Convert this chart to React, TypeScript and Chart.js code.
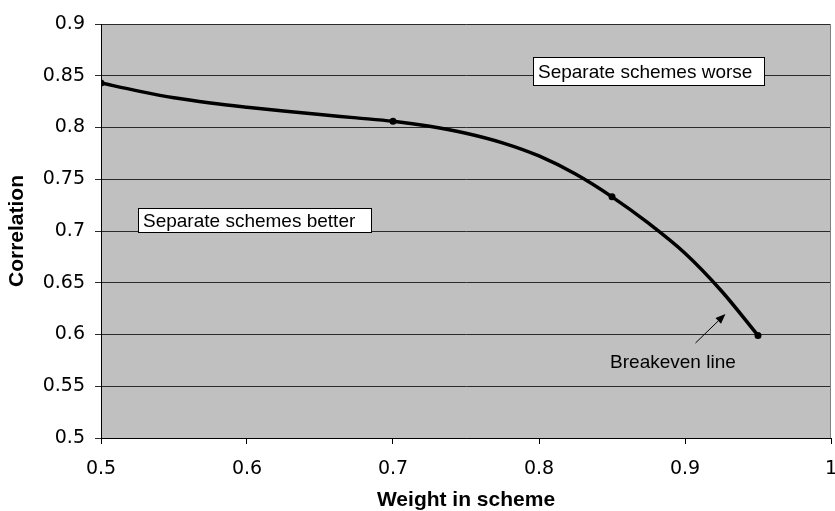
import React, { useEffect, useRef } from "react";
import { Chart, registerables } from "chart.js";

Chart.register(...registerables);

// Data: breakeven curve
const curveWeights = [0.5, 0.525, 0.55, 0.575, 0.6, 0.625, 0.65, 0.675, 0.7, 0.725, 0.75, 0.775, 0.8, 0.825, 0.85, 0.875, 0.9, 0.925, 0.95];
const curveCorrelations = [0.843, 0.8354, 0.8287, 0.8237, 0.8196, 0.8159, 0.8125, 0.8093, 0.806, 0.8012, 0.7945, 0.7852, 0.7725, 0.755, 0.733, 0.7075, 0.6785, 0.642, 0.599];

// Marked points
const markerWeights = [0.5, 0.7, 0.85, 0.95];
const markerCorrelations = [0.843, 0.806, 0.733, 0.599];

const xTickValues = [0.5, 0.6, 0.7, 0.8, 0.9, 1];
const yTickValues = [0.5, 0.55, 0.6, 0.65, 0.7, 0.75, 0.8, 0.85, 0.9];

const xTitle = "Weight in scheme";
const yTitle = "Correlation";

// annotation boxes in data coordinates: [x0, y0, x1, y1]
const worseLabel = "Separate schemes worse";
const worseBox = [0.796, 0.868, 0.954, 0.841];
const betterLabel = "Separate schemes better";
const betterBox = [0.525, 0.722, 0.685, 0.699];
const breakevenLabel = "Breakeven line";
const breakevenPos = [0.8487, 0.5676];
const arrowFrom = [0.9072, 0.5918];
const arrowTo = [0.9277, 0.6198];

const annotationPlugin = {
  id: "annotations",
  beforeDraw(chart: any) {
    const { ctx, chartArea } = chart;
    ctx.save();
    ctx.fillStyle = "#C0C0C0";
    ctx.fillRect(chartArea.left, chartArea.top, chartArea.right - chartArea.left, chartArea.bottom - chartArea.top);
    ctx.restore();
  },
  afterDraw(chart: any) {
    const { ctx, chartArea } = chart;
    const xs = chart.scales.x;
    const ys = chart.scales.y;
    const px = (v: number) => xs.getPixelForValue(v);
    const py = (v: number) => ys.getPixelForValue(v);
    ctx.save();
    // right border of plot area
    ctx.strokeStyle = "#808080";
    ctx.lineWidth = 1;
    ctx.beginPath();
    ctx.moveTo(Math.round(chartArea.right) - 0.5, chartArea.top);
    ctx.lineTo(Math.round(chartArea.right) - 0.5, chartArea.bottom);
    ctx.stroke();

    const drawBox = (box: number[], text: string) => {
      const x0 = Math.round(px(box[0])) + 0.5;
      const y0 = Math.round(py(box[1])) + 0.5;
      const x1 = Math.round(px(box[2])) + 0.5;
      const y1 = Math.round(py(box[3])) + 0.5;
      ctx.fillStyle = "#ffffff";
      ctx.fillRect(x0, y0, x1 - x0, y1 - y0);
      ctx.strokeStyle = "#000000";
      ctx.lineWidth = 1;
      ctx.strokeRect(x0, y0, x1 - x0, y1 - y0);
      ctx.fillStyle = "#000000";
      ctx.font = "19px 'Liberation Sans', Arial, sans-serif";
      ctx.textAlign = "left";
      ctx.textBaseline = "alphabetic";
      ctx.fillText(text, x0 + 4.5, y0 + (y1 - y0) / 2 + 6.5);
    };
    drawBox(worseBox, worseLabel);
    drawBox(betterBox, betterLabel);

    // breakeven text
    ctx.fillStyle = "#000000";
    ctx.font = "19px 'Liberation Sans', Arial, sans-serif";
    ctx.textAlign = "left";
    ctx.textBaseline = "alphabetic";
    ctx.fillText(breakevenLabel, px(breakevenPos[0]), py(breakevenPos[1]));

    // arrow
    const ax0 = px(arrowFrom[0]);
    const ay0 = py(arrowFrom[1]);
    const ax1 = px(arrowTo[0]);
    const ay1 = py(arrowTo[1]);
    const ang = Math.atan2(ay1 - ay0, ax1 - ax0);
    const headLen = 10;
    const headW = 4;
    const bx = ax1 - headLen * Math.cos(ang);
    const by = ay1 - headLen * Math.sin(ang);
    ctx.strokeStyle = "#000000";
    ctx.lineWidth = 1;
    ctx.beginPath();
    ctx.moveTo(ax0, ay0);
    ctx.lineTo(bx, by);
    ctx.stroke();
    ctx.beginPath();
    ctx.moveTo(ax1, ay1);
    ctx.lineTo(bx + headW * Math.sin(ang), by - headW * Math.cos(ang));
    ctx.lineTo(bx - headW * Math.sin(ang), by + headW * Math.cos(ang));
    ctx.closePath();
    ctx.fillStyle = "#000000";
    ctx.fill();
    ctx.restore();
  },
};

export default function App() {
  const canvasRef = useRef<HTMLCanvasElement | null>(null);

  useEffect(() => {
    if (!canvasRef.current) return;
    const tickFont = { family: "'DejaVu Sans', Verdana, sans-serif", size: 19 };
    const titleFont = { family: "'Liberation Sans', Arial, sans-serif", size: 21, weight: "bold" as const, lineHeight: 1 };
    const chart = new Chart(canvasRef.current, {
      type: "scatter",
      data: {
        datasets: [
          {
            data: curveWeights.map((w, i) => ({ x: w, y: curveCorrelations[i] })),
            showLine: true,
            borderColor: "#000000",
            backgroundColor: "#000000",
            borderWidth: 3.5,
            pointRadius: 0,
            cubicInterpolationMode: "monotone",
          },
          {
            data: markerWeights.map((w, i) => ({ x: w, y: markerCorrelations[i] })),
            showLine: false,
            borderColor: "#000000",
            backgroundColor: "#000000",
            pointRadius: 3.5,
            pointBorderWidth: 0,
            pointBackgroundColor: "#000000",
          },
        ],
      },
      plugins: [annotationPlugin],
      options: {
        animation: false,
        responsive: false,
        maintainAspectRatio: false,
        layout: { padding: { left: 0, right: 1, top: 24, bottom: 0 } },
        plugins: { legend: { display: false }, tooltip: { enabled: false } },
        scales: {
          x: {
            type: "linear",
            min: 0.5,
            max: 1,
            afterBuildTicks: (scale: any) => {
              scale.ticks = xTickValues.map((v) => ({ value: v }));
            },
            ticks: {
              font: tickFont,
              color: "#000000",
              padding: 14,
              maxRotation: 0,
              autoSkip: false,
              callback: (v: any) => String(Number(Number(v).toFixed(2))),
            },
            grid: { drawOnChartArea: false, drawTicks: true, tickLength: 6, color: "#000000", lineWidth: 1 },
            border: { display: true, color: "#000000", width: 1 },
            title: { display: true, text: xTitle, font: titleFont, color: "#000000", padding: { top: 0, bottom: 0 } },
            afterFit: (scale: any) => {
              scale.height = 73;
              scale.paddingLeft = 0;
              scale.paddingRight = 0;
            },
          },
          y: {
            type: "linear",
            min: 0.5,
            max: 0.9,
            afterBuildTicks: (scale: any) => {
              scale.ticks = yTickValues.map((v) => ({ value: v }));
            },
            ticks: {
              font: tickFont,
              color: "#000000",
              padding: 10,
              autoSkip: false,
              callback: (v: any) => String(Number(Number(v).toFixed(2))),
            },
            grid: { drawOnChartArea: true, drawTicks: true, tickLength: 6, color: "#2a2a2a", lineWidth: 1 },
            border: { display: true, color: "#000000", width: 1 },
            title: { display: true, text: yTitle, font: titleFont, color: "#000000", padding: { top: 7, bottom: 0 } },
            afterFit: (scale: any) => {
              scale.width = 101;
              scale.paddingTop = 0;
              scale.paddingBottom = 0;
            },
          },
        },
      },
    });
    return () => chart.destroy();
  }, []);

  return (
    <div style={{ position: "absolute", left: 0, top: 0, width: 835, height: 511, background: "#ffffff" }}>
      <canvas ref={canvasRef} width={835} height={511} style={{ display: "block", width: 835, height: 511 }} />
    </div>
  );
}
